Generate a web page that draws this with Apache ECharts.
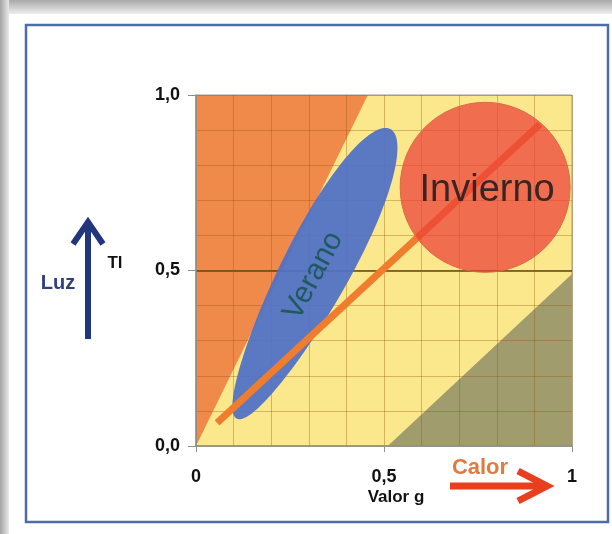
<!DOCTYPE html>
<html><head><meta charset="utf-8">
<script src="https://cdn.jsdelivr.net/npm/echarts@6/dist/echarts.min.js"></script>
<style>html,body{margin:0;padding:0;background:#fff}#c{width:612px;height:534px}</style>
</head><body><div id="c"></div>
<script>
// ---- data ----
const xTickLabels = ['0', '0,5', '1'];
const yTickLabels = ['0,0', '0,5', '1,0'];
const zonaBase = [[0, 0], [1, 0], [1, 1], [0, 1]];
const zonaLuz = [[0, 0], [0.457, 1], [0, 1]];
const zonaCalor = [[0.51, 0], [1, 0], [1, 0.49]];
const veranoExtremos = [[0.108, 0.078], [0.517, 0.903]];
const veranoSemiancho = [0.09];
const inviernoCentro = [0.769, 0.737];
const inviernoRadio = [0.226];
const tendencia = [[0.056, 0.066], [0.915, 0.917]];

const FF = '"Liberation Sans", Arial, sans-serif';

function polySeries(pts, color) {
  return {
    type: 'custom', xAxisIndex: 0, yAxisIndex: 0, z: -1, silent: true, data: [0],
    renderItem: (params, api) => ({
      type: 'polygon',
      shape: { points: pts.map(p => api.coord(p)) },
      style: { fill: color }
    })
  };
}

const chart = echarts.init(document.getElementById('c'), null, { renderer: 'canvas' });
chart.setOption({
  backgroundColor: '#fff',
  animation: false,
  grid: { left: 196, right: 40, top: 95, bottom: 88, show: true, borderColor: '#9a9a9a', borderWidth: 1, backgroundColor: 'transparent' },
  xAxis: [
    { type: 'value', min: 0, max: 1, interval: 0.1,
      axisLine: { show: false }, axisTick: { show: false }, axisLabel: { show: false },
      splitLine: { show: true, lineStyle: { color: 'rgba(150,85,0,0.36)', width: 1 } } },
    { type: 'value', min: 0, max: 1, interval: 0.5, position: 'bottom',
      axisLine: { show: true, lineStyle: { color: '#8f8f8f', width: 1.5 } },
      axisTick: { show: true, length: 6, lineStyle: { color: '#8f8f8f' } },
      axisLabel: { margin: 22, color: '#111', fontWeight: 'bold', fontSize: 18, fontFamily: FF,
        formatter: v => xTickLabels[Math.round(v / 0.5)] },
      splitLine: { show: false } }
  ],
  yAxis: [
    { type: 'value', min: 0, max: 1, interval: 0.1,
      axisLine: { show: false }, axisTick: { show: false }, axisLabel: { show: false },
      splitLine: { show: true, lineStyle: { color: 'rgba(150,85,0,0.36)', width: 1 } } },
    { type: 'value', min: 0, max: 1, interval: 0.5, position: 'left',
      axisLine: { show: true, lineStyle: { color: '#8f8f8f', width: 1.5 } },
      axisTick: { show: true, length: 8, lineStyle: { color: '#8f8f8f' } },
      axisLabel: { margin: 16, color: '#111', fontWeight: 'bold', fontSize: 18, fontFamily: FF,
        formatter: v => yTickLabels[Math.round(v / 0.5)] },
      splitLine: { show: true, showMinLine: false, showMaxLine: false, lineStyle: { color: 'rgba(100,70,20,0.75)', width: 2 } } }
  ],
  series: [
    polySeries(zonaBase, '#fce88c'),
    polySeries(zonaLuz, '#f08a4b'),
    polySeries(zonaCalor, '#a09c6e'),
    { type: 'custom', xAxisIndex: 0, yAxisIndex: 0, z: 2, silent: true, data: [0],
      renderItem: (params, api) => {
        const a = api.coord(veranoExtremos[0]), b = api.coord(veranoExtremos[1]);
        const cx = (a[0] + b[0]) / 2, cy = (a[1] + b[1]) / 2;
        const dx = b[0] - a[0], dy = b[1] - a[1];
        const L = Math.hypot(dx, dy) / 2;
        const ux = dx / (2 * L), uy = dy / (2 * L);
        const w = api.size([veranoSemiancho[0], 0])[0];
        const pts = [];
        for (let i = 0; i < 160; i++) {
          const t = i / 160 * 2 * Math.PI;
          const p = L * Math.cos(t), q = w * Math.sin(t) * (1 + 0.14 * Math.cos(t));
          pts.push([cx + ux * p - uy * q, cy + uy * p + ux * q]);
        }
        return { type: 'group', children: [
          { type: 'polygon', shape: { points: pts }, style: { fill: '#5171c6', opacity: 0.94 } },
          { type: 'text', x: cx, y: cy + 2, rotation: Math.atan2(-dy, dx),
            style: { text: 'Verano', fontSize: 30, fontFamily: FF, fill: '#1e5b60', align: 'center', verticalAlign: 'middle' } }
        ] };
      } },
    { type: 'line', xAxisIndex: 0, yAxisIndex: 0, z: 3, silent: true, data: tendencia, symbol: 'none',
      lineStyle: { color: '#f07d2d', width: 7, cap: 'butt' } },
    { type: 'custom', xAxisIndex: 0, yAxisIndex: 0, z: 4, silent: true, data: [0],
      renderItem: (params, api) => {
        const c = api.coord(inviernoCentro);
        const r = api.size([inviernoRadio[0], 0])[0];
        return { type: 'group', children: [
          { type: 'circle', shape: { cx: c[0], cy: c[1], r: r }, style: { fill: 'rgba(235,62,56,0.72)', stroke: '#dc6a40', lineWidth: 1 } },
          { type: 'text', x: c[0] + 2, y: c[1] + 3,
            style: { text: 'Invierno', fontSize: 38, fontFamily: FF, fill: '#3a2424', align: 'center', verticalAlign: 'middle' } }
        ] };
      } }
  ],
  graphic: [
    { type: 'rect', z: -20, shape: { x: 0, y: 0, width: 612, height: 14 },
      style: { fill: { type: 'linear', x: 0, y: 0, x2: 0, y2: 1, colorStops: [{ offset: 0, color: '#a9a9a9' }, { offset: 1, color: '#eeeeee' }] } } },
    { type: 'rect', z: -19, shape: { x: 0, y: 0, width: 9, height: 534 },
      style: { fill: { type: 'linear', x: 0, y: 0, x2: 1, y2: 0, colorStops: [{ offset: 0, color: '#a4a4a4' }, { offset: 1, color: '#e8e8e8' }] } } },
    { type: 'rect', z: 10, shape: { x: 26, y: 25, width: 582, height: 497 },
      style: { fill: 'none', stroke: '#4c6cab', lineWidth: 2.5 } },
    { type: 'line', z: 10, shape: { x1: 88, y1: 339, x2: 88, y2: 224 }, style: { stroke: '#22367e', lineWidth: 6 } },
    { type: 'polyline', z: 10, shape: { points: [[73, 244], [88, 222], [103, 244]] }, style: { stroke: '#22367e', lineWidth: 6, fill: null, lineJoin: 'miter' } },
    { type: 'text', z: 10, x: 58, y: 283, style: { text: 'Luz', fontSize: 20, fontWeight: 'bold', fontFamily: FF, fill: '#33407e', align: 'center', verticalAlign: 'middle' } },
    { type: 'text', z: 10, x: 115, y: 263, style: { text: 'Tl', fontSize: 17, fontWeight: 'bold', fontFamily: FF, fill: '#111', align: 'center', verticalAlign: 'middle' } },
    { type: 'text', z: 10, x: 480, y: 468, style: { text: 'Calor', fontSize: 22, fontWeight: 'bold', fontFamily: FF, fill: '#e07b3f', align: 'center', verticalAlign: 'middle' } },
    { type: 'line', z: 10, shape: { x1: 450, y1: 486, x2: 543, y2: 486 }, style: { stroke: '#e8401f', lineWidth: 7 } },
    { type: 'polyline', z: 10, shape: { points: [[518, 471], [547, 486], [518, 501]] }, style: { stroke: '#e8401f', lineWidth: 7, fill: null, lineJoin: 'miter' } },
    { type: 'text', z: 10, x: 396, y: 497, style: { text: 'Valor g', fontSize: 17, fontWeight: 'bold', fontFamily: FF, fill: '#111', align: 'center', verticalAlign: 'middle' } }
  ]
});
</script>
</body></html>
